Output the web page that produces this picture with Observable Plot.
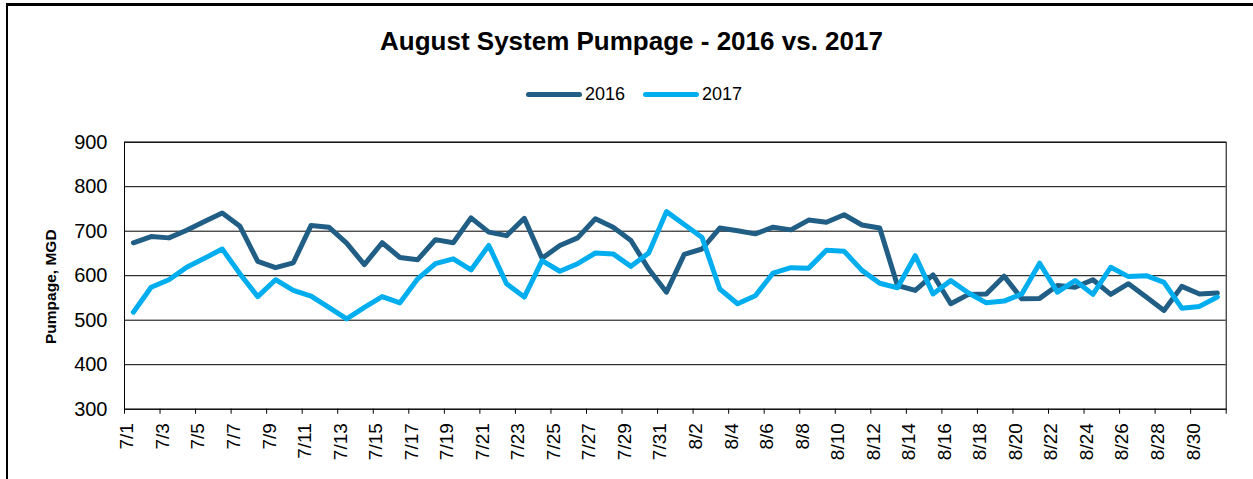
<!DOCTYPE html>
<html><head><meta charset="utf-8">
<script src="https://cdn.jsdelivr.net/npm/d3@7"></script>
<script src="https://cdn.jsdelivr.net/npm/@observablehq/plot@0.6"></script>
<style>
body{margin:0;background:#fff;font-family:Arial,"Liberation Sans",sans-serif;}
#wrap{position:relative;width:1253px;height:479px;overflow:hidden;background:#fff;}
#border{position:absolute;left:6px;top:3px;width:1300px;height:600px;border-top:3px solid #000;border-left:2px solid #000;box-sizing:border-box;z-index:5;pointer-events:none;}
#title{position:absolute;left:0;top:26px;width:1263px;text-align:center;font-weight:bold;font-size:26px;line-height:30px;color:#000;}
#legend{position:absolute;left:0;top:84px;width:1268px;display:flex;justify-content:center;align-items:center;font-size:18px;color:#000;}
.item{display:flex;align-items:center;margin:0 9px;}
.sw{display:inline-block;width:56px;height:5px;border-radius:3px;margin-right:3px;}
#chart{position:absolute;left:0;top:120px;}
</style></head>
<body>
<div id="wrap">
  <div id="border"></div>
  <div id="title">August System Pumpage - 2016 vs. 2017</div>
  <div id="legend"></div>
  <div id="chart"></div>
</div>
<script>
const dates = ["7/1","7/2","7/3","7/4","7/5","7/6","7/7","7/8","7/9","7/10","7/11","7/12","7/13","7/14","7/15","7/16","7/17","7/18","7/19","7/20","7/21","7/22","7/23","7/24","7/25","7/26","7/27","7/28","7/29","7/30","7/31",
"8/1","8/2","8/3","8/4","8/5","8/6","8/7","8/8","8/9","8/10","8/11","8/12","8/13","8/14","8/15","8/16","8/17","8/18","8/19","8/20","8/21","8/22","8/23","8/24","8/25","8/26","8/27","8/28","8/29","8/30","8/31"];
const pump2016 = [674,688,685,702,722,741,711,632,618,629,713,709,673,625,674,641,636,
681,674,730,698,690,729,639,668,685,728,709,679,615,563,648,660,
707,701,694,709,703,725,720,737,714,707,578,567,602,537,558,
559,599,548,549,578,574,591,558,582,552,522,576,559,561];
const pump2017 = [518,574,591,619,639,660,604,553,591,567,554,529,503,529,553,539,593,
627,638,613,668,582,552,634,610,627,651,649,621,651,744,715,686,
570,537,555,606,618,617,657,655,612,583,573,645,559,589,561,
539,543,559,628,563,589,558,619,598,600,585,527,531,552];
const tickLabels = ["7/1","7/3","7/5","7/7","7/9","7/11","7/13","7/15","7/17","7/19","7/21","7/23","7/25","7/27","7/29","7/31",
"8/2","8/4","8/6","8/8","8/10","8/12","8/14","8/16","8/18","8/20","8/22","8/24","8/26","8/28","8/30"];
const yTicks = [300,400,500,600,700,800,900];
const seriesNames = ["2016","2017"];
const seriesColors = ["#215E86","#00AEEF"];

const rows = dates.map((d, i) => ({date: d, y2016: pump2016[i], y2017: pump2017[i]}));

// legend
const leg = document.getElementById("legend");
seriesNames.forEach((n, k) => {
  const it = document.createElement("div"); it.className = "item";
  const sw = document.createElement("span"); sw.className = "sw"; sw.style.background = seriesColors[k];
  const tx = document.createElement("span"); tx.textContent = n;
  it.appendChild(sw); it.appendChild(tx); leg.appendChild(it);
});

const W = 1253, H = 359, mL = 124, mR = 27.3, mT = 21.7, mB = 70.3;
const step = (W - mL - mR) / dates.length;

const chart = Plot.plot({
  width: W, height: H,
  marginLeft: mL, marginRight: mR, marginTop: mT, marginBottom: mB,
  style: {fontFamily: "Arial, 'Liberation Sans', sans-serif", background: "#fff", color: "#000"},
  x: {type: "point", domain: dates, padding: 0.5, align: 0.5, axis: null},
  y: {domain: [300, 900], axis: null},
  marks: [
    Plot.ruleY(yTicks, {stroke: "#000", strokeWidth: 1}),
    Plot.frame({stroke: "#000", strokeWidth: 1}),
    Plot.ruleX(tickLabels, {x: d => d, y1: 300, y2: 300, insetBottom: -5, dx: -step / 2, stroke: "#000"}),
    Plot.ruleX([dates[dates.length - 1]], {x: d => d, y1: 300, y2: 300, insetBottom: -5, dx: step / 2, stroke: "#000"}),
    Plot.text(tickLabels, {x: d => d, text: d => d, frameAnchor: "bottom", rotate: -90, textAnchor: "end", dy: 14, fontSize: 19, fill: "#000"}),
    Plot.text(yTicks, {y: d => d, text: d => String(d), frameAnchor: "left", textAnchor: "end", dx: -17, fontSize: 20, fill: "#000"}),
    Plot.text(["Pumpage, MGD"], {text: d => d, frameAnchor: "left", textAnchor: "middle", rotate: -90, dx: -73, dy: 11, fontSize: 15.5, fontWeight: "bold", fill: "#000"}),
    Plot.line(rows, {x: "date", y: "y2016", stroke: seriesColors[0], strokeWidth: 5, strokeLinejoin: "round"}),
    Plot.line(rows, {x: "date", y: "y2017", stroke: seriesColors[1], strokeWidth: 5, strokeLinejoin: "round"})
  ]
});
document.getElementById("chart").appendChild(chart);
</script>
</body></html>
